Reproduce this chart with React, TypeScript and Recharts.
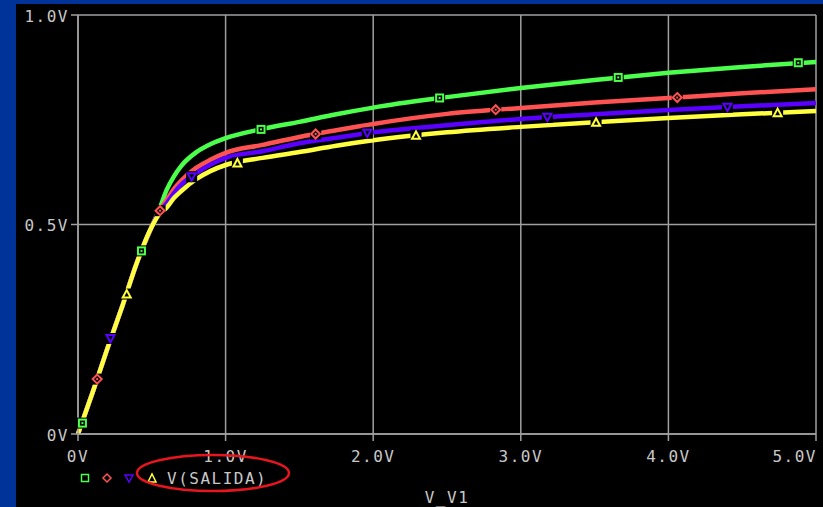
import React from 'react';
import { ComposedChart, Line, Scatter, XAxis, YAxis, CartesianGrid } from 'recharts';

const xValues = [0, 0.1, 0.2, 0.3, 0.4, 0.5, 0.55, 0.6, 0.65, 0.7, 0.8, 0.9, 1.0, 1.25, 1.5, 1.75, 2.0, 2.5, 3.0, 3.5, 4.0, 4.5, 5.0];
const greenValues = [0, 0.1, 0.205, 0.305, 0.41, 0.495, 0.535, 0.582, 0.615, 0.64, 0.672, 0.692, 0.706, 0.728, 0.745, 0.763, 0.779, 0.804, 0.826, 0.845, 0.862, 0.876, 0.888];
const redValues = [0, 0.1, 0.205, 0.305, 0.41, 0.495, 0.532, 0.558, 0.585, 0.605, 0.635, 0.655, 0.671, 0.69, 0.709, 0.725, 0.74, 0.764, 0.778, 0.791, 0.802, 0.813, 0.823];
const blueValues = [0, 0.1, 0.205, 0.305, 0.41, 0.495, 0.53, 0.55, 0.575, 0.595, 0.622, 0.643, 0.659, 0.675, 0.694, 0.707, 0.72, 0.737, 0.752, 0.763, 0.773, 0.782, 0.79];
const yellowValues = [0, 0.1, 0.205, 0.305, 0.41, 0.495, 0.525, 0.54, 0.563, 0.58, 0.608, 0.628, 0.642, 0.659, 0.673, 0.688, 0.701, 0.72, 0.733, 0.744, 0.754, 0.763, 0.771];

const greenMarkers = [[0.03, 0.026], [0.43, 0.437], [1.24, 0.727], [2.45, 0.802], [3.66, 0.851], [4.88, 0.886]];
const redMarkers = [[0.13, 0.131], [0.556, 0.533], [1.61, 0.716], [2.83, 0.774], [4.06, 0.803]];
const blueMarkers = [[0.22, 0.228], [0.77, 0.614], [1.96, 0.718], [3.18, 0.756], [4.4, 0.78]];
const yellowMarkers = [[0.33, 0.334], [1.08, 0.647], [2.29, 0.713], [3.51, 0.744], [4.74, 0.767]];

const xTicks = [0, 1, 2, 3, 4, 5];
const xTickLabels = ['0V', '1.0V', '2.0V', '3.0V', '4.0V', '5.0V'];
const yTicks = [0, 0.5, 1];
const yTickLabels = ['0V', '0.5V', '1.0V'];
const legendLabel = 'V(SALIDA)';
const xTitle = 'V_V1';

const GREEN = '#4cff4c';
const RED = '#ff5252';
const BLUE = '#5a00ff';
const YELLOW = '#ffff40';
const GRID = '#a0a0a0';
const TEXT = '#c8c8c8';
const FONT = '"DejaVu Sans Mono", "Liberation Mono", monospace';

const curveData = xValues.map((x, i) => ({
  x,
  g: greenValues[i],
  r: redValues[i],
  b: blueValues[i],
  y: yellowValues[i],
}));

const toPts = (arr: number[][]) => arr.map(([x, v]) => ({ x, v }));

const SquareMark = (p: any) => {
  const { cx, cy } = p;
  if (cx == null) return null;
  return (
    <g>
      <rect x={cx - 5.5} y={cy - 5.5} width={11} height={11} fill="#000" />
      <rect x={cx - 3.5} y={cy - 3.5} width={7} height={7} fill="#000" stroke={GREEN} strokeWidth={2} />
      <rect x={cx - 1} y={cy - 1} width={2} height={2} fill={GREEN} />
    </g>
  );
};
const DiamondMark = (p: any) => {
  const { cx, cy } = p;
  if (cx == null) return null;
  return (
    <g>
      <rect x={cx - 5.5} y={cy - 5.5} width={11} height={11} fill="#000" />
      <polygon points={`${cx},${cy - 4.5} ${cx + 4.5},${cy} ${cx},${cy + 4.5} ${cx - 4.5},${cy}`} fill="#000" stroke={RED} strokeWidth={2} />
      <rect x={cx - 1} y={cy - 1} width={2} height={2} fill={RED} />
    </g>
  );
};
const DownTriMark = (p: any) => {
  const { cx, cy } = p;
  if (cx == null) return null;
  return (
    <g>
      <rect x={cx - 5.5} y={cy - 5.5} width={11} height={11} fill="#000" />
      <polygon points={`${cx - 4},${cy - 3.5} ${cx + 4},${cy - 3.5} ${cx},${cy + 4}`} fill="#000" stroke={BLUE} strokeWidth={2} />
    </g>
  );
};
const UpTriMark = (p: any) => {
  const { cx, cy } = p;
  if (cx == null) return null;
  return (
    <g>
      <rect x={cx - 5.5} y={cy - 5.5} width={11} height={11} fill="#000" />
      <polygon points={`${cx - 4},${cy + 3.5} ${cx + 4},${cy + 3.5} ${cx},${cy - 4}`} fill="#000" stroke={YELLOW} strokeWidth={2} />
    </g>
  );
};

const XTick = (props: any) => {
  const { x, y, payload, index } = props;
  const last = index === xTicks.length - 1;
  return (
    <text x={last ? x + 1 : x} y={y + 13} textAnchor={last ? 'end' : 'middle'} dominantBaseline="central"
      fill={TEXT} fontFamily={FONT} fontSize={16} letterSpacing={1.5}>
      {xTickLabels[xTicks.indexOf(payload.value)]}
    </text>
  );
};
const YTick = (props: any) => {
  const { x, y, payload } = props;
  return (
    <text x={x} y={y + 1} textAnchor="end" dominantBaseline="central"
      fill={TEXT} fontFamily={FONT} fontSize={16} letterSpacing={1.5}>
      {yTickLabels[yTicks.indexOf(payload.value)]}
    </text>
  );
};

export default function App() {
  return (
    <div style={{ position: 'fixed', left: 0, top: 0, width: 823, height: 507, background: '#003399', overflow: 'hidden' }}>
      <div style={{ position: 'absolute', left: 16, top: 4, right: 0, bottom: 0, background: '#000' }} />
      <div style={{ position: 'absolute', left: 0, top: 0 }}>
        <ComposedChart width={823} height={507} data={curveData}
          margin={{ top: 15, right: 7, left: 0, bottom: 43 }}>
          <CartesianGrid stroke={GRID} strokeWidth={1.5} horizontalValues={yTicks} verticalValues={xTicks} />
          <XAxis type="number" dataKey="x" domain={[0, 5]} ticks={xTicks} height={30}
            axisLine={{ stroke: GRID, strokeWidth: 1.5 }} tickLine={{ stroke: GRID, strokeWidth: 1.5 }}
            tickSize={7} tick={<XTick />} interval={0} />
          <YAxis type="number" domain={[0, 1]} ticks={yTicks} width={78}
            axisLine={{ stroke: GRID, strokeWidth: 1.5 }} tickLine={{ stroke: GRID, strokeWidth: 1.5 }}
            tickSize={7} tick={<YTick />} interval={0} />
          <Line dataKey="g" stroke={GREEN} strokeWidth={4.5} dot={false} type="monotone" isAnimationActive={false} />
          <Line dataKey="r" stroke={RED} strokeWidth={4.5} dot={false} type="monotone" isAnimationActive={false} />
          <Line dataKey="b" stroke={BLUE} strokeWidth={4.5} dot={false} type="monotone" isAnimationActive={false} />
          <Line dataKey="y" stroke={YELLOW} strokeWidth={4.5} dot={false} type="monotone" isAnimationActive={false} />
          <Scatter data={toPts(greenMarkers)} dataKey="v" shape={<SquareMark />} isAnimationActive={false} />
          <Scatter data={toPts(redMarkers)} dataKey="v" shape={<DiamondMark />} isAnimationActive={false} />
          <Scatter data={toPts(blueMarkers)} dataKey="v" shape={<DownTriMark />} isAnimationActive={false} />
          <Scatter data={toPts(yellowMarkers)} dataKey="v" shape={<UpTriMark />} isAnimationActive={false} />
        </ComposedChart>
      </div>
      <svg width={823} height={507} style={{ position: 'absolute', left: 0, top: 0, pointerEvents: 'none' }}>
        <rect x={81.5} y={474.5} width={7} height={7} fill="none" stroke={GREEN} strokeWidth={1.5} />
        <polygon points="107,474 111,478 107,482 103,478" fill="none" stroke={RED} strokeWidth={1.5} />
        <polygon points="125,475 133,475 129,482" fill="none" stroke={BLUE} strokeWidth={1.5} />
        <polygon points="148,482 156,482 152,474" fill="none" stroke={YELLOW} strokeWidth={1.5} />
        <text x={167} y={478} dominantBaseline="central" fill={TEXT} fontFamily={FONT} fontSize={16} letterSpacing={1.5}>{legendLabel}</text>
        <ellipse cx={213} cy={473} rx={76} ry={18} fill="none" stroke="#e8141e" strokeWidth={2.5} />
        <text x={447} y={503} textAnchor="middle" fill={TEXT} fontFamily={FONT} fontSize={16} letterSpacing={1.5}>{xTitle}</text>
      </svg>
    </div>
  );
}
